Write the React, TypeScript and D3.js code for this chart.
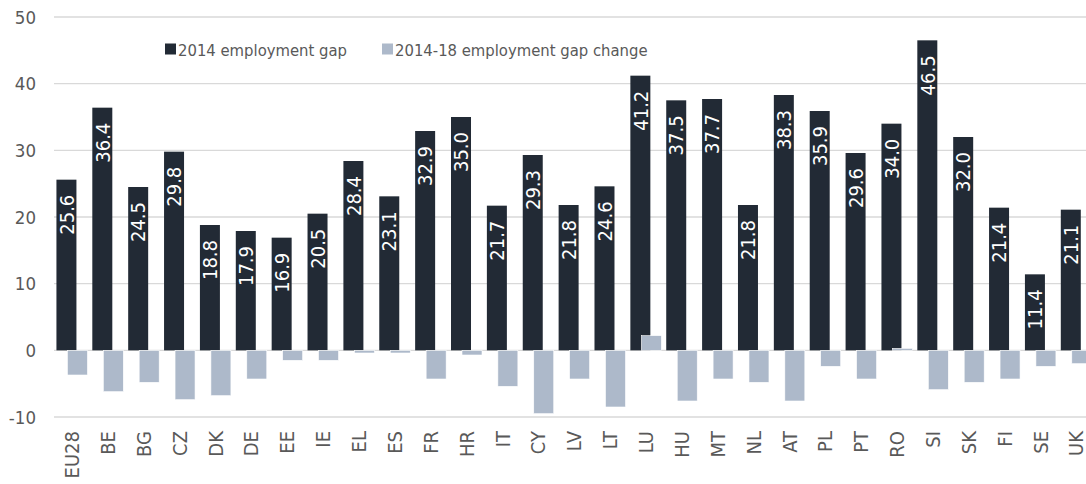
import React from "react";
import * as d3 from "d3";

const categories = ["EU28","BE","BG","CZ","DK","DE","EE","IE","EL","ES","FR","HR","IT","CY","LV","LT","LU","HU","MT","NL","AT","PL","PT","RO","SI","SK","FI","SE","UK"];
const gap2014 = [25.6,36.4,24.5,29.8,18.8,17.9,16.9,20.5,28.4,23.1,32.9,35.0,21.7,29.3,21.8,24.6,41.2,37.5,37.7,21.8,38.3,35.9,29.6,34.0,46.5,32.0,21.4,11.4,21.1];
const gapChange = [-3.7,-6.2,-4.8,-7.4,-6.8,-4.3,-1.5,-1.5,-0.4,-0.4,-4.3,-0.7,-5.4,-9.5,-4.3,-8.5,2.2,-7.6,-4.3,-4.8,-7.6,-2.4,-4.3,0.3,-5.9,-4.8,-4.3,-2.4,-2.0];
const yTicks = [-10,0,10,20,30,40,50];
const seriesNames = ["2014 employment gap","2014-18 employment gap change"];
const colors = ["#222a35","#adb9ca"];

const W = 1086, H = 484;
const FONT = "'DejaVu Sans Condensed', 'DejaVu Sans', sans-serif";

export default function App() {
  const plotLeft = 54;
  const step = 35.87;
  const plotRight = plotLeft + step * categories.length;
  const x = d3.scaleBand<string>().domain(categories).range([plotLeft, plotRight]).paddingInner(0.136).paddingOuter(0.068);
  const y = d3.scaleLinear().domain([-10, 50]).range([417, 17]);
  const bw = x.bandwidth();
  const barW = bw * (20 / 31);
  const off = bw * (11 / 31);

  return (
    <svg width={W} height={H} style={{ position: "absolute", left: 0, top: 0, background: "#fff" }} fontFamily={FONT}>
      {yTicks.map((t) => (
        <g key={t}>
          <line x1={plotLeft} x2={plotRight} y1={y(t)} y2={y(t)} stroke="#d9d9d9" strokeWidth={1.3} />
          <text x={36} y={y(t)} dy="0.36em" textAnchor="end" fontSize={18.5} fill="#595959">{t}</text>
        </g>
      ))}
      {categories.map((c, i) => {
        const x0 = x(c)!;
        const v1 = gap2014[i];
        const v2 = gapChange[i];
        return (
          <g key={c}>
            <rect x={x0} width={barW} y={y(Math.max(0, v1))} height={Math.abs(y(v1) - y(0))} fill={colors[0]} />
            <rect x={x0 + off} width={barW} y={y(Math.max(0, v2))} height={Math.abs(y(v2) - y(0))} fill={colors[1]} stroke="#fff" strokeWidth={0.6} />
          </g>
        );
      })}
      {categories.map((c, i) => {
        const cx = x(c)! + barW / 2;
        const ty = y(gap2014[i]) + 15;
        return (
          <text key={c} transform={`translate(${cx},${ty}) rotate(-90)`} dy="0.36em" textAnchor="end" fontSize={20} fill="#ffffff">
            {gap2014[i].toFixed(1)}
          </text>
        );
      })}
      {categories.map((c) => {
        const cx = x(c)! + bw / 2;
        return (
          <text key={c} transform={`translate(${cx},431) rotate(-90)`} dy="0.36em" textAnchor="end" fontSize={20} fill="#595959">
            {c}
          </text>
        );
      })}
      <g>
        <rect x={165} y={43.5} width={11} height={11} fill={colors[0]} />
        <text x={178} y={55.5} fontSize={16.5} fill="#595959">{seriesNames[0]}</text>
        <rect x={382} y={43.5} width={11} height={11} fill={colors[1]} />
        <text x={395} y={55.5} fontSize={16.5} fill="#595959">{seriesNames[1]}</text>
      </g>
    </svg>
  );
}
